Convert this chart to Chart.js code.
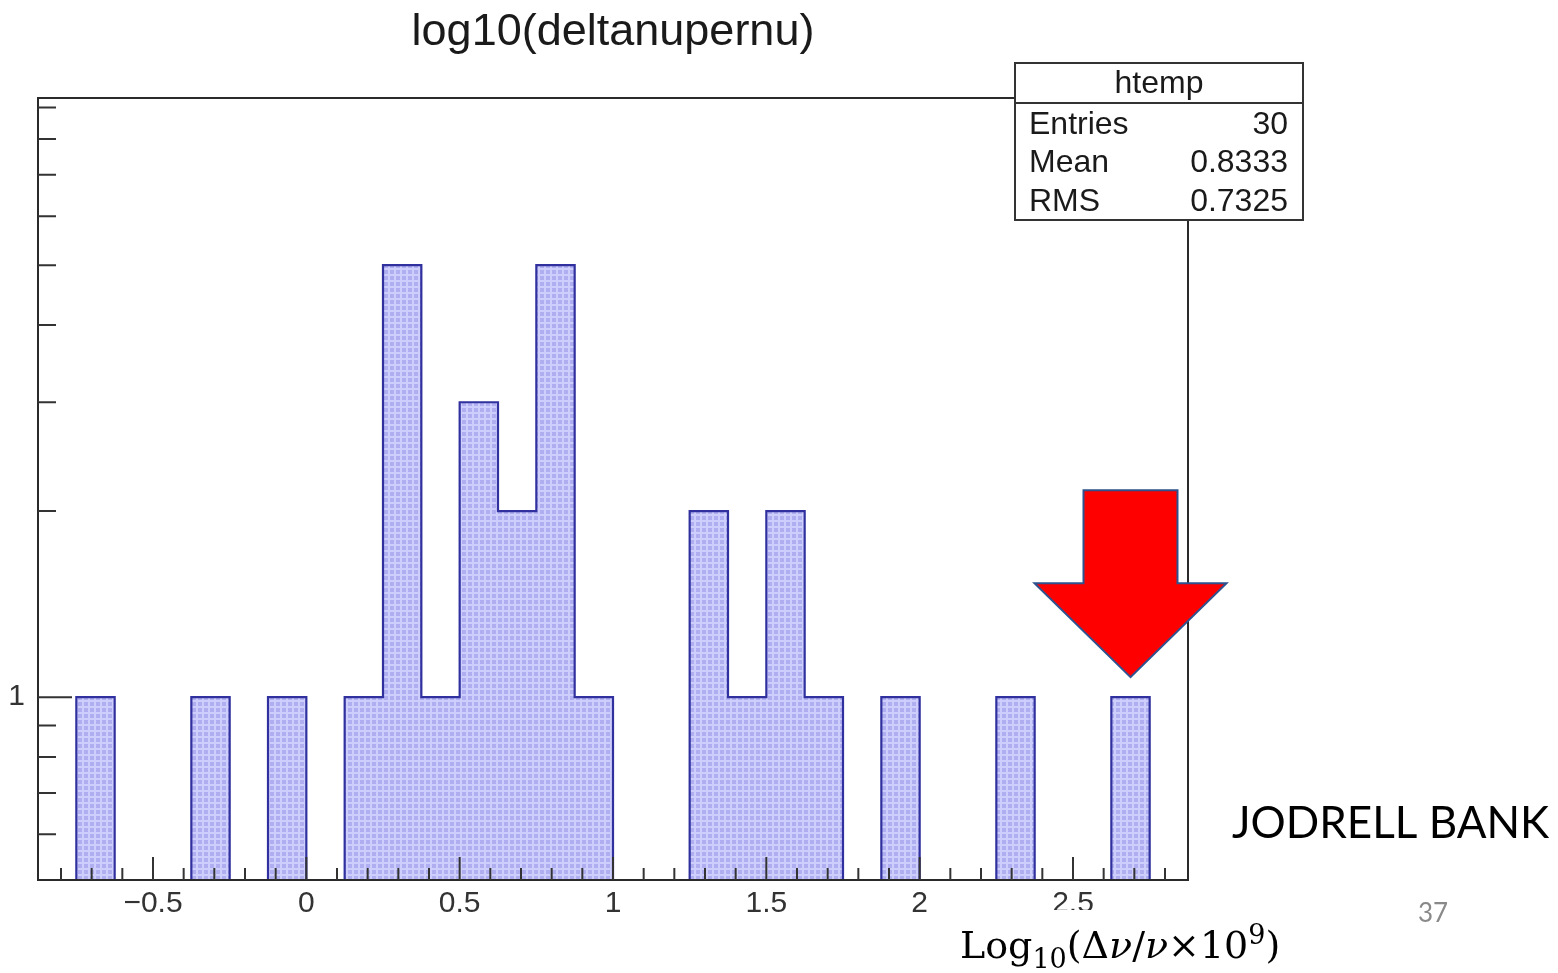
<!DOCTYPE html>
<html>
<head>
<meta charset="utf-8">
<title>log10(deltanupernu)</title>
<script src="https://cdn.jsdelivr.net/npm/chart.js@4.4.1/dist/chart.umd.min.js"></script>
<style>
  html, body { margin: 0; padding: 0; background: #fff; }
  #wrap { width: 1558px; height: 973px; }
</style>
</head>
<body>
<div id="wrap"><canvas id="hist" width="1558" height="973"></canvas></div>
<script>
// Histogram: 30 bins of width 0.125 starting at -0.875
const binLow = -0.875;
const binWidth = 0.125;
const counts = [0, 1, 0, 0, 1, 0, 1, 0, 1, 5, 1, 3, 2, 5, 1, 0, 0, 2, 1, 2, 1, 0, 1, 0, 0, 1, 0, 0, 1, 0];

// Axis ranges and tick values
const xMin = -0.875;
const xMax = 2.875;
const xTickTenths = [];              // minor ticks every 0.1, labelled every 0.5
for (let k = -8; k <= 28; k++) xTickTenths.push(k);
const yMin = 0.506;
const yMax = 9.32;
const yTickValues = [0.6, 0.7, 0.8, 0.9, 1, 2, 3, 4, 5, 6, 7, 8, 9];

// Stats box
const statsTitle = "htemp";
const statsLabels = ["Entries", "Mean", "RMS"];
const statsValues = ["30", "0.8333", "0.7325"];

const SANS = '"Liberation Sans", Arial, Helvetica, sans-serif';

// ROOT-like fill: lavender cells with pale grid lines
function makeFillPattern(ctx) {
  const c = document.createElement("canvas");
  c.width = 6;
  c.height = 6;
  const g = c.getContext("2d");
  g.fillStyle = "rgb(174,174,240)";
  g.fillRect(0, 0, 6, 6);
  g.fillStyle = "rgb(206,206,252)";
  g.fillRect(0, 4, 6, 2);
  g.fillRect(4, 0, 2, 6);
  return ctx.createPattern(c, "repeat");
}

// Step outline points at the bin edges; empty bins sit on the log-axis floor
const histPoints = counts.map((c, i) => ({ x: binLow + i * binWidth, y: c > 0 ? c : yMin }));
histPoints.push({ x: binLow + counts.length * binWidth, y: yMin });

// Frame, inward ticks, stats box and the arrow
const rootFrame = {
  id: "rootFrame",
  afterDatasetsDraw(chart) {
    const { ctx, chartArea: a } = chart;
    const xs = chart.scales.x;
    const ys = chart.scales.y;
    ctx.save();

    ctx.strokeStyle = "#2a2a2a";
    ctx.lineWidth = 2;
    ctx.strokeRect(a.left, a.top, a.right - a.left, a.bottom - a.top);

    ctx.lineWidth = 2;
    ctx.strokeStyle = "#333";
    ctx.beginPath();
    xs.ticks.forEach((t) => {
      const x = xs.getPixelForValue(t.value);
      const k = Math.round(t.value * 10);
      const len = k % 5 === 0 ? 23 : 12;
      ctx.moveTo(x, a.bottom);
      ctx.lineTo(x, a.bottom - len);
    });
    ys.ticks.forEach((t) => {
      const y = ys.getPixelForValue(t.value);
      const len = t.value === 1 ? 34 : 18;
      ctx.moveTo(a.left, y);
      ctx.lineTo(a.left + len, y);
    });
    ctx.stroke();

    // stats box
    const bx = 1015, by = 63, bw = 288, bh = 157;
    ctx.fillStyle = "#fff";
    ctx.fillRect(bx, by, bw, bh);
    ctx.strokeStyle = "#333";
    ctx.lineWidth = 2;
    ctx.strokeRect(bx, by, bw, bh);
    ctx.beginPath();
    ctx.moveTo(bx, by + 40);
    ctx.lineTo(bx + bw, by + 40);
    ctx.stroke();
    ctx.fillStyle = "#1a1a1a";
    ctx.font = "32px " + SANS;
    ctx.textBaseline = "middle";
    ctx.textAlign = "center";
    ctx.fillText(statsTitle, bx + bw / 2, by + 21);
    statsLabels.forEach((lab, i) => {
      const y = by + 62 + i * 38.5;
      ctx.textAlign = "left";
      ctx.fillText(lab, bx + 14, y);
      ctx.textAlign = "right";
      ctx.fillText(statsValues[i], bx + bw - 15, y);
    });

    // red arrow pointing down at the last filled bin
    let last = -1;
    counts.forEach((c, i) => { if (c > 0) last = i; });
    const tipX = xs.getPixelForValue(binLow + (last + 0.5) * binWidth);
    const tipY = ys.getPixelForValue(counts[last]) - 20;
    const headHalf = 96, shaftHalf = 47, headH = 94, totalH = 187;
    ctx.beginPath();
    ctx.moveTo(tipX, tipY);
    ctx.lineTo(tipX - headHalf, tipY - headH);
    ctx.lineTo(tipX - shaftHalf, tipY - headH);
    ctx.lineTo(tipX - shaftHalf, tipY - totalH);
    ctx.lineTo(tipX + shaftHalf, tipY - totalH);
    ctx.lineTo(tipX + shaftHalf, tipY - headH);
    ctx.lineTo(tipX + headHalf, tipY - headH);
    ctx.closePath();
    ctx.fillStyle = "#ff0000";
    ctx.fill();
    ctx.strokeStyle = "#2f528f";
    ctx.lineWidth = 2;
    ctx.stroke();

    ctx.restore();
  },
  afterDraw(chart) {
    const ctx = chart.ctx;
    ctx.save();

    // slide text
    ctx.fillStyle = "#000";
    ctx.textBaseline = "alphabetic";
    ctx.textAlign = "left";
    ctx.font = "44px Lato, sans-serif";
    ctx.fillText("JODRELL BANK", 1232, 838);
    ctx.fillStyle = "#898989";
    ctx.font = "26px Lato, sans-serif";
    ctx.fillText("37", 1418, 922);

    // axis formula on a white text box
    ctx.fillStyle = "#fff";
    ctx.fillRect(945, 910, 345, 63);
    ctx.fillStyle = "#000";
    const serif = '"DejaVu Serif", serif';
    const base = 958;
    const parts = [
      { t: "Log", f: "38px " + serif, dy: 0 },
      { t: "10", f: "27px " + serif, dy: 10 },
      { t: "(Δ", f: "38px " + serif, dy: 0 },
      { t: "ν", f: "italic 38px " + serif, dy: 0 },
      { t: "/", f: "38px " + serif, dy: 0 },
      { t: "ν", f: "italic 38px " + serif, dy: 0 },
      { t: "×10", f: "38px " + serif, dy: 0 },
      { t: "9", f: "27px " + serif, dy: -14 },
      { t: ")", f: "38px " + serif, dy: 0 },
    ];
    let x = 960;
    parts.forEach((p) => {
      ctx.font = p.f;
      ctx.fillText(p.t, x, base + p.dy);
      x += ctx.measureText(p.t).width;
    });

    ctx.restore();
  },
};

const ctx = document.getElementById("hist").getContext("2d");

new Chart(ctx, {
  type: "line",
  data: {
    datasets: [
      {
        data: histPoints,
        stepped: "before",
        borderColor: "#30309e",
        borderWidth: 2.2,
        backgroundColor: makeFillPattern(ctx),
        fill: "start",
        pointRadius: 0,
        tension: 0,
      },
    ],
  },
  options: {
    responsive: false,
    animation: false,
    events: [],
    layout: { padding: { top: 0, right: 370, bottom: 0, left: 0 } },
    plugins: {
      legend: { display: false },
      tooltip: { enabled: false },
      title: {
        display: true,
        fullSize: false,
        text: "log10(deltanupernu)",
        color: "#1a1a1a",
        font: { family: SANS, size: 45, weight: "normal", lineHeight: 1.2 },
        padding: { top: 6, bottom: 38 },
      },
    },
    scales: {
      x: {
        type: "linear",
        min: xMin,
        max: xMax,
        grid: { display: false, drawTicks: false },
        border: { display: false },
        afterBuildTicks: (scale) => {
          scale.ticks = xTickTenths.map((k) => ({ value: k / 10 }));
        },
        afterFit: (scale) => { scale.height = 93; },
        ticks: {
          autoSkip: false,
          maxRotation: 0,
          padding: 6,
          color: "#333",
          font: { family: SANS, size: 30 },
          callback: (value) => {
            const k = Math.round(value * 10);
            if (k % 5 !== 0) return "";
            return String(k / 10).replace("-", "\u2212");
          },
        },
      },
      y: {
        type: "logarithmic",
        min: yMin,
        max: yMax,
        grid: { display: false, drawTicks: false },
        border: { display: false },
        afterBuildTicks: (scale) => {
          scale.ticks = yTickValues.map((v) => ({ value: v }));
        },
        afterFit: (scale) => { scale.width = 38; },
        ticks: {
          autoSkip: false,
          padding: 13,
          color: "#333",
          font: { family: SANS, size: 30 },
          callback: (value) => (value === 1 ? "1" : ""),
        },
      },
    },
  },
  plugins: [rootFrame],
});
</script>
</body>
</html>
